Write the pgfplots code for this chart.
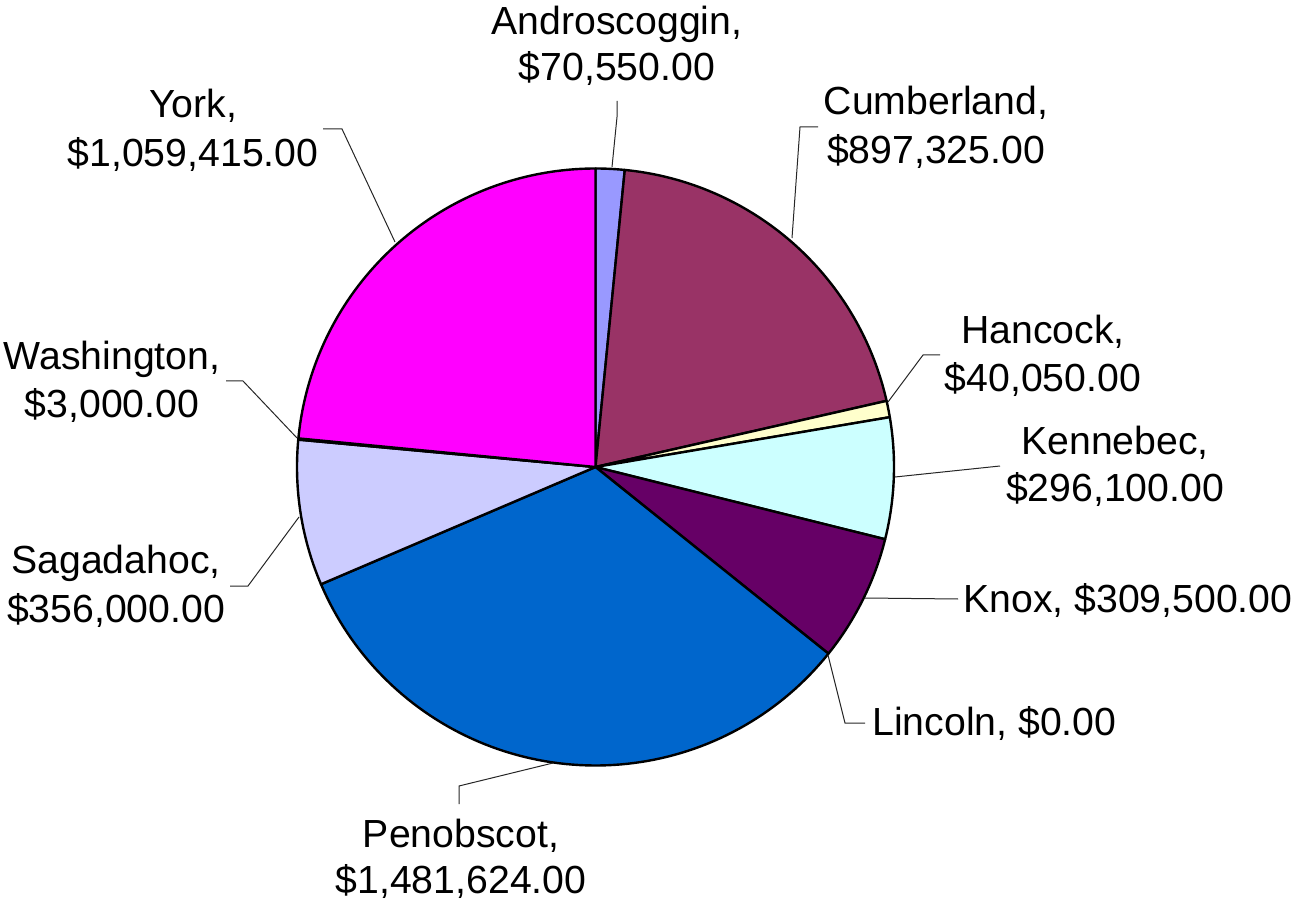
\documentclass[border=0pt]{standalone}
\usepackage{pgfplots}
\pgfplotsset{compat=1.18}
\usepackage{pgfplotstable}
\usepackage{fontspec}
\setmainfont{Liberation Sans}
\definecolor{cAndro}{HTML}{9999FF}
\definecolor{cCumb}{HTML}{993366}
\definecolor{cHanc}{HTML}{FFFFCC}
\definecolor{cKenn}{HTML}{CCFFFF}
\definecolor{cKnox}{HTML}{660066}
\definecolor{cLinc}{HTML}{FF8080}
\definecolor{cPeno}{HTML}{0066CC}
\definecolor{cSaga}{HTML}{CCCCFF}
\definecolor{cWash}{HTML}{000080}
\definecolor{cYork}{HTML}{FF00FF}

\pgfplotstableread[col sep=comma]{
county,value,color
Androscoggin,70550,cAndro
Cumberland,897325,cCumb
Hancock,40050,cHanc
Kennebec,296100,cKenn
Knox,309500,cKnox
Lincoln,0,cLinc
Penobscot,1481624,cPeno
Sagadahoc,356000,cSaga
Washington,3000,cWash
York,1059415,cYork
}\piedata

\def\pietotal{0}
\pgfplotsforeachungrouped \i in {0,...,9}{%
  \pgfplotstablegetelem{\i}{value}\of\piedata
  \edef\pietotal{\fpeval{\pietotal+\pgfplotsretval}}%
}

\tikzset{lab/.style={anchor=base, inner sep=0pt, font=\fontsize{19.6}{23}\selectfont},
         lead/.style={line width=0.5pt, black!85}}

\begin{document}
\begin{tikzpicture}
\begin{axis}[
  scale only axis, width=647pt, height=450pt,
  xmin=0, xmax=1294, ymin=0, ymax=900,
  hide axis, clip=false,
]
\def\cum{0}
\pgfplotsforeachungrouped \i in {0,...,9}{%
  \pgfplotstablegetelem{\i}{value}\of\piedata \edef\v{\pgfplotsretval}%
  \pgfplotstablegetelem{\i}{color}\of\piedata \edef\c{\pgfplotsretval}%
  \edef\aA{\fpeval{90-360*\cum/\pietotal}}%
  \edef\cum{\fpeval{\cum+\v}}%
  \edef\aB{\fpeval{90-360*\cum/\pietotal}}%
  \ifnum\v>0
    \edef\tmp{\noexpand\addplot[fill=\c, draw=black, line width=1.2pt, line join=round,
      domain=\aB:\aA, samples=90] ({595.5+298.5*cos(x)},{433+298.5*sin(x)}) -- (595.5,433) -- cycle;}%
    \tmp
  \fi
}

% leader lines
\draw[lead] (612,733) -- (617,783) -- (617,799);
\draw[lead] (792,662) -- (800,773) -- (818,773);
\draw[lead] (888,498) -- (923,545) -- (940,545);
\draw[lead] (895,423) -- (1000,434);
\draw[lead] (865,302) -- (958,301);
\draw[lead] (828,245) -- (845,177) -- (865,177);
\draw[lead] (553,137) -- (459,114) -- (459,96);
\draw[lead] (299,383) -- (248,314) -- (230,314);
\draw[lead] (297,462) -- (243,519) -- (226,519);
\draw[lead] (395,658) -- (342,771) -- (323,771);

% labels
\node[lab] at (617,865) {Androscoggin,};
\node[lab] at (617,819) {\$70,550.00};
\node[lab] at (936,785) {Cumberland,};
\node[lab] at (936,736) {\$897,325.00};
\node[lab] at (1043,556) {Hancock,};
\node[lab] at (1043,508) {\$40,050.00};
\node[lab] at (1115,445) {Kennebec,};
\node[lab] at (1115,398) {\$296,100.00};
\node[lab, anchor=base west] at (963,288) {Knox, \$309,500.00};
\node[lab, anchor=base west] at (872,165) {Lincoln, \$0.00};
\node[lab] at (461,53) {Penobscot,};
\node[lab] at (461,7) {\$1,481,624.00};
\node[lab] at (116,327) {Sagadahoc,};
\node[lab] at (116,278) {\$356,000.00};
\node[lab] at (112,530) {Washington,};
\node[lab] at (112,482) {\$3,000.00};
\node[lab] at (193,782) {York,};
\node[lab] at (193,733) {\$1,059,415.00};
\end{axis}
\pgfresetboundingbox
\path (current axis.south west) rectangle (current axis.north east);
\end{tikzpicture}
\end{document}
